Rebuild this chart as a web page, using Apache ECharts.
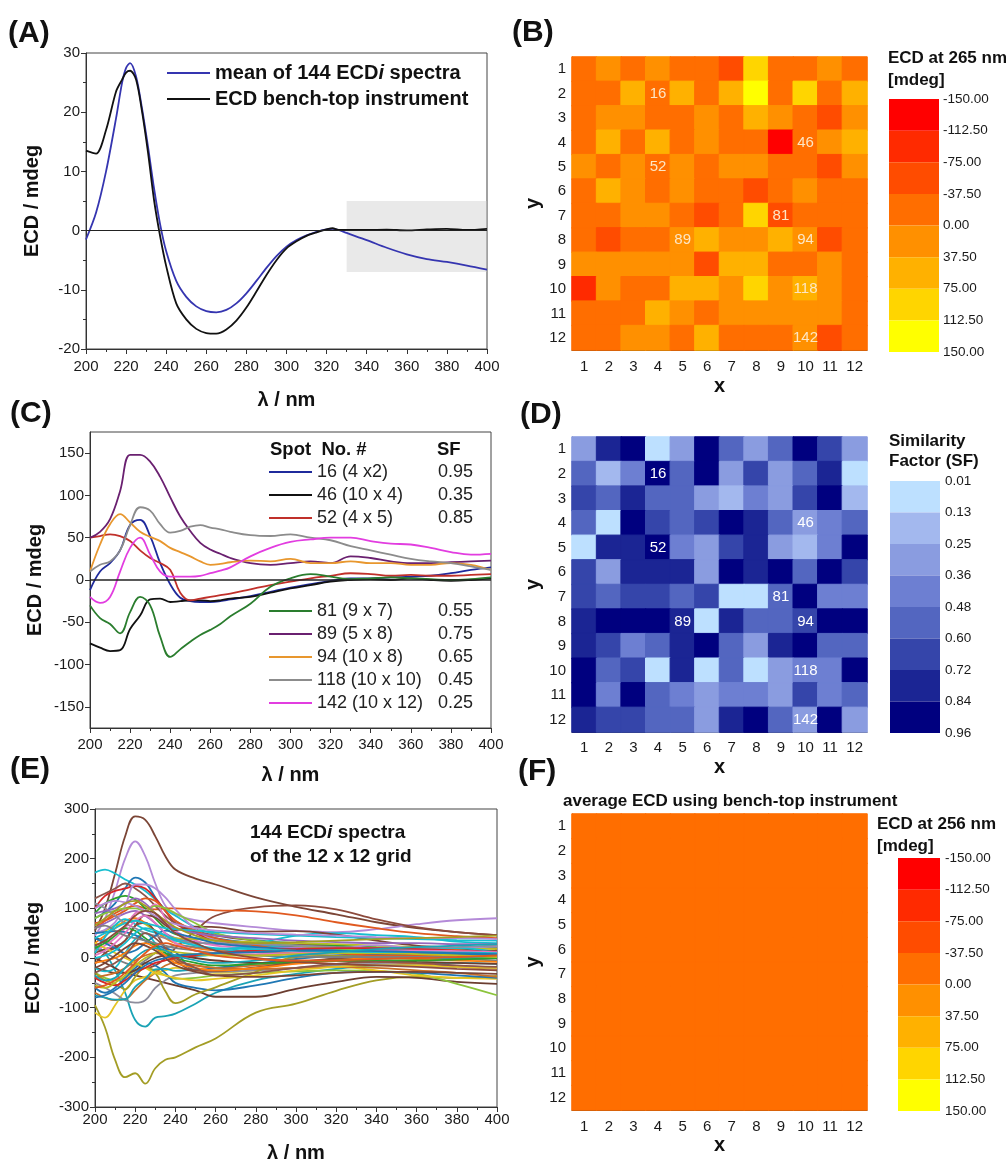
<!DOCTYPE html>
<html lang="en">
<head>
<meta charset="UTF-8">
<title>ECD imaging of a 12 x 12 grid</title>
<script src="https://cdn.jsdelivr.net/npm/echarts@6.0.0/dist/echarts.min.js"></script>
<style>
  body { margin: 0; background: #fff; }
  #chart { width: 1006px; height: 1164px; }
</style>
</head>
<body>
<div id="chart"></div>
<script>
const FONT = '"Liberation Sans", Arial, sans-serif';

// ---------- (A) mean ECDi vs bench-top ----------
const wlA = [200,205,210,215,218,220,222,225,228,231,234,237,240,245,250,255,260,265,270,275,280,285,290,295,300,305,310,315,320,323,326,330,340,350,360,370,380,390,400];
const meanA = [-1.5,3,10,19,25,27.5,28.3,26,20.5,14,7,1,-3.5,-8.5,-11.2,-12.8,-13.6,-13.8,-13.4,-12.3,-10.6,-8.5,-6.3,-4.3,-2.7,-1.6,-0.8,-0.2,0.2,0.3,0.1,-0.4,-1.6,-2.9,-4.0,-4.8,-5.3,-5.9,-6.6];
const benchA = [13.5,13,17,23.5,25.5,26.7,27,25.5,20,13,5,-1,-6,-12.3,-15,-16.6,-17.3,-17.4,-16.7,-15.2,-13,-10.3,-7.5,-5,-3,-1.8,-0.9,-0.3,0.2,0.4,0.1,0.1,0.1,0.15,0.05,0.2,0.3,0.1,0.3];
const shadeWl = [330, 400];
const shadeEcd = [-7, 5];

// ---------- (C) selected spots ----------
const wlC = [200,205,210,215,220,225,230,235,240,245,250,255,260,265,270,280,290,300,310,320,330,340,350,360,370,380,390,400];
const spotNames = ['16 (4 x2)', '46 (10 x 4)', '52 (4 x 5)', '81 (9 x 7)', '89 (5 x 8)', '94 (10 x 8)', '118 (10 x 10)', '142 (10 x 12)'];
const spotSF = ['0.95', '0.35', '0.85', '0.55', '0.75', '0.65', '0.45', '0.25'];
const spotColors = ['#1f2a9c', '#111111', '#c0302a', '#2a7d2e', '#6a2070', '#e8972e', '#8c8c8c', '#e23de0'];
const spot16 = [-12,10,20,35,65,71,52,20,-5,-21,-25,-26,-26,-25,-23,-19,-14,-9,-5,-1,2,2,3,4,5,8,12,15];
const spot46 = [-75,-80,-84,-83,-58,-42,-23,-22,-26,-25,-24,-24,-25,-24,-22,-20,-15,-10,-6,-2,0,1,0,2,0,-1,0,2];
const spot52 = [50,52,54,52,46,35,26,20,12,-15,-24,-22,-20,-18,-16,-11,-6,-2,2,5,8,7,5,6,5,5,6,7];
const spot81 = [-30,-45,-52,-63,-38,-20,-30,-67,-91,-82,-73,-65,-59,-52,-43,-28,-8,2,7,4,1,2,3,2,1,0,1,3];
const spot89 = [50,57,72,105,148,148,140,122,98,75,58,44,36,31,26,20,18,20,22,20,28,26,22,20,20,21,22,23];
const spot94 = [10,42,66,78,68,57,51,46,38,33,28,22,18,19,21,23,22,25,20,20,22,20,20,18,18,20,18,12];
const spot118 = [10,18,22,35,65,86,82,66,56,58,63,65,62,60,57,53,52,54,50,47,40,35,30,25,22,20,16,12];
const spot142 = [-20,-27,-20,10,38,50,30,10,4,4,4,5,8,11,15,28,38,45,48,50,50,46,43,42,38,33,30,31];
const spotCurves = [spot16, spot46, spot52, spot81, spot89, spot94, spot118, spot142];
const cTicks = [-150, -100, -50, 0, 50, 100, 150];

// ---------- (E) all ECDi spectra (hand-read, dense band) ----------
const wlE = [200,205,210,215,220,225,230,235,240,250,260,280,300,320,340,360,380,400];
const spectraE = [
  [55,100,170,245,285,278,245,205,178,160,148,122,103,88,72,60,52,46],
  [45,80,135,200,235,205,150,105,88,76,70,62,55,52,58,68,76,80],
  [172,178,170,158,148,135,118,98,85,62,48,36,30,25,20,16,14,10],
  [80,92,110,140,162,152,122,95,75,52,40,30,25,20,18,16,20,25],
  [-95,-140,-205,-240,-232,-253,-222,-205,-200,-180,-162,-110,-92,-66,-45,-38,-40,-36],
  [25,10,-25,-70,-125,-138,-120,-117,-112,-92,-70,-45,-32,-22,-15,-12,-10,-12],
  [40,35,25,5,-10,-20,-15,0,20,55,85,102,106,98,78,62,52,46],
  [60,75,90,100,105,100,98,100,100,98,96,94,86,72,60,50,44,40],
  [-20,-25,-30,-30,-35,-40,-45,-50,-55,-65,-78,-78,-62,-48,-38,-40,-48,-52],
  [-30,-40,-45,-40,-25,-20,-25,-35,-42,-40,-35,-30,-27,-25,-26,-32,-52,-75],
  [-70,-80,-85,-83,-65,-45,-30,-15,-10,-15,-20,-15,-10,-5,-8,-12,-18,-22],
  [-110,-120,-95,-65,-45,-38,-30,-25,-20,-25,-30,-25,-20,-18,-25,-35,-40,-42],
  [-50,-60,-72,-85,-90,-85,-60,-45,-35,-30,-28,-25,-20,-15,-12,-15,-18,-20],
  [-60,-70,-60,-40,-20,-10,-15,-30,-50,-60,-65,-55,-40,-30,-28,-30,-35,-40],
  [30,45,60,75,80,70,55,40,30,20,15,12,10,10,12,15,18,20],
  [90,110,120,125,118,100,80,60,48,40,35,30,28,25,22,20,20,22],
  [100,125,135,140,145,140,120,95,70,50,35,28,22,18,15,12,12,10],
  [60,70,80,90,95,85,70,50,40,32,28,25,20,18,15,15,14,12],
  [120,130,140,150,140,125,105,85,70,55,45,35,28,22,18,16,15,15],
  [15,25,40,60,90,95,108,80,55,35,25,20,18,16,15,15,14,14],
  [20,10,0,-10,-15,-5,10,20,25,22,18,12,8,5,2,0,-2,-5],
  [50,55,65,70,75,68,55,45,40,38,35,32,30,28,25,22,20,18],
  [-20,-27,-20,10,38,50,30,10,4,4,8,28,45,50,46,42,33,30],
  [10,18,22,35,65,86,82,66,56,63,62,53,54,47,35,25,20,12],
  [50,57,72,105,148,148,140,122,98,58,36,20,20,20,26,20,21,23],
  [10,42,66,78,68,57,51,46,38,28,18,23,25,20,20,18,20,12],
  [50,52,54,52,46,35,26,20,12,-24,-20,-11,-2,5,7,6,5,7],
  [-30,-45,-52,-63,-38,-20,-30,-67,-91,-73,-59,-28,2,4,2,2,0,3],
  [-75,-80,-84,-83,-58,-42,-23,-22,-26,-24,-25,-20,-10,-2,1,2,-1,2],
  [-12,10,20,35,65,71,52,20,-5,-25,-26,-19,-9,-1,2,4,8,15],
  [70,75,85,95,110,120,115,95,75,55,40,25,15,10,5,5,8,10],
  [0,-10,-20,-30,-25,-10,0,5,5,0,-5,-10,-8,-5,-5,-8,-10,-12],
  [80,90,95,100,100,95,105,100,90,70,50,35,25,18,15,12,10,10],
  [-40,-35,-30,-20,-5,5,10,5,-5,-15,-20,-22,-20,-18,-20,-25,-30,-38],
  [30,20,10,0,-10,-20,-30,-35,-40,-45,-42,-35,-25,-18,-15,-15,-18,-20],
  [110,100,85,70,60,50,45,40,35,30,30,28,25,22,20,20,22,25],
  [40,30,20,10,15,30,45,55,50,40,30,22,18,15,12,10,8,5],
  [-10,-5,0,10,25,30,20,5,-10,-20,-25,-20,-12,-5,0,-2,-5,-8],
  [20,30,45,60,55,40,25,10,0,-10,-15,-12,-8,-5,-5,-5,-3,0],
  [-40,-50,-55,-45,-30,-20,-10,-5,0,5,10,15,18,20,20,18,15,12],
  [90,95,100,110,120,110,90,70,60,50,45,40,35,32,30,30,28,28],
  [-30,-20,-10,5,30,50,40,20,0,-20,-35,-30,-20,-12,-8,-10,-15,-18],
  [5,15,30,50,75,85,70,50,30,15,10,8,10,12,15,15,14,12],
  [60,65,55,45,40,35,30,25,20,15,10,5,3,2,2,2,3,5],
  [-55,-60,-50,-35,-15,0,10,15,12,8,5,5,8,10,10,8,5,2],
  [40,50,60,70,75,70,65,60,58,55,52,48,45,42,40,38,36,35],
  [-20,-10,5,20,30,25,15,0,-15,-28,-35,-38,-35,-30,-28,-28,-30,-32],
  [100,110,115,112,105,95,85,75,68,60,55,50,47,45,42,40,40,38],
  [0,5,15,30,50,60,55,45,35,25,20,18,15,13,12,12,11,10],
  [-80,-75,-65,-50,-30,-15,-5,0,5,8,10,12,15,15,14,12,10,8],
  [65,80,95,110,115,105,90,75,62,45,35,30,32,35,38,40,42,45],
  [-35,-45,-40,-20,0,15,20,15,5,-5,-10,-5,5,12,18,22,25,28],
  [25,35,50,65,85,95,90,70,50,30,15,0,-8,-12,-15,-18,-22,-25],
  [-60,-55,-45,-30,-10,10,25,30,25,15,5,-2,-5,-5,-2,0,2,5]
];
const ePalette = ['#7b4536','#b48ad8','#17becf','#1f77b4','#a39d25','#1aa3b5','#8c4a3c','#e0591f','#6b3d30','#8cc43c','#c9702a','#e6c523','#8d8d9c',
                  '#1f77b4','#ff7f0e','#2ca02c','#d62728','#9467bd','#8c564b','#e377c2','#7f7f7f','#bcbd22','#17becf'];

// ---------- heat maps (rows y = 1..12, columns x = 1..12) ----------
const gridLabels = ['1','2','3','4','5','6','7','8','9','10','11','12'];
const markedSpots = [16, 46, 52, 81, 89, 94, 118, 142];

const ecdTicks = ['-150.00','-112.50','-75.00','-37.50','0.00','37.50','75.00','112.50','150.00'];
const ecdBounds = [-150, -112.5, -75, -37.5, 0, 37.5, 75, 112.5, 150];
const ecdColors = ['#ff0000','#ff2a00','#ff4c00','#ff6e00','#ff9000','#ffb100','#ffd500','#ffff00'];
const ecdMap = [
  [-20, 20,-20, 20,-20,-20,-55, 95,-20,-20, 20,-20],
  [-20,-20, 55,-20, 55,-20, 55,130,-20, 95,-20, 55],
  [-20, 20, 20,-20,-20, 20,-20, 55, 20,-20,-55, 20],
  [-20, 55,-20, 55,-20, 20,-20,-20,-120,-20, 20, 55],
  [ 20,-20, 20,-20, 20,-20, 20, 20,-20,-20,-55, 20],
  [-20, 55, 20,-20, 20,-20,-20,-55,-20, 20,-20,-20],
  [-20,-20, 20, 20,-20,-55,-20, 95,-55,-20,-20,-20],
  [-20,-55,-20,-20, 20, 55, 20, 20, 55, 20,-55,-20],
  [ 20, 20, 20, 20, 20,-55, 55, 55,-20,-20, 20,-20],
  [-95, 20,-20,-20, 55, 55, 20, 95, 20, 55, 20,-20],
  [-20,-20,-20, 55, 20,-20, 20, 20, 20, 20, 20,-20],
  [-20,-20, 20, 20,-20, 55,-20,-20,-20, 20,-55,-20]
];

const sfTicks = ['0.01','0.13','0.25','0.36','0.48','0.60','0.72','0.84','0.96'];
const sfBounds = [0.01, 0.13, 0.25, 0.36, 0.48, 0.60, 0.72, 0.84, 0.96];
const sfColors = ['#bde0ff','#a3b8ee','#8a9ce0','#6d7fd2','#5366c0','#3545aa','#1b2594','#00007f'];
const sfMap = [
  [.30,.78,.90,.07,.30,.90,.54,.30,.54,.90,.66,.30],
  [.54,.19,.42,.95,.54,.90,.30,.66,.30,.54,.78,.07],
  [.66,.54,.78,.54,.54,.30,.19,.42,.30,.66,.90,.19],
  [.54,.07,.90,.66,.54,.66,.90,.78,.54,.35,.42,.54],
  [.07,.78,.78,.85,.42,.30,.66,.78,.30,.19,.42,.90],
  [.66,.30,.78,.78,.78,.30,.90,.78,.90,.54,.90,.66],
  [.66,.54,.66,.66,.54,.66,.07,.07,.55,.90,.42,.42],
  [.78,.90,.90,.90,.75,.07,.78,.54,.54,.65,.90,.90],
  [.78,.66,.42,.54,.78,.90,.54,.30,.78,.90,.54,.54],
  [.90,.54,.66,.07,.78,.07,.54,.07,.30,.45,.42,.90],
  [.90,.42,.90,.54,.42,.30,.42,.42,.30,.66,.42,.54],
  [.78,.66,.66,.54,.54,.30,.78,.90,.54,.25,.90,.30]
];

const benchAvg256 = -16.7;   // bench-top value, same on every spot

// ---------- helpers ----------
const pairs = (xs, ys) => xs.map((x, i) => [x, ys[i]]);
function binColor(v, bounds, colors) {
  for (let i = 0; i < colors.length; i++) {
    if (v < bounds[i + 1] || i === colors.length - 1) return colors[i];
  }
}
// each cell also gets a same-coloured hairline border so neighbouring cells show no seams
function cells(map, bounds, colors) {
  const out = [];
  map.forEach((row, yi) => row.forEach((v, xi) => out.push({
    value: [xi, yi, v],
    itemStyle: { borderColor: binColor(v, bounds, colors), borderWidth: 1 }
  })));
  return out;
}
function pieces(bounds, colors) {
  return colors.map((c, i) => i === colors.length - 1
    ? { gte: bounds[i], lte: bounds[i + 1], color: c }
    : { gte: bounds[i], lt: bounds[i + 1], color: c });
}
const fMap = gridLabels.map(() => gridLabels.map(() => benchAvg256));

const axisTxt = { fontFamily: FONT, fontSize: 15, color: '#1a1a1a' };
const nameTxt = { fontFamily: FONT, fontSize: 20, fontWeight: 'bold', color: '#111' };
const dark = { color: '#333' };

function specX(g, gap, margin) {
  return {
    gridIndex: g, type: 'value', min: 200, max: 400, interval: 20,
    name: 'λ / nm', nameLocation: 'middle', nameGap: gap, nameTextStyle: nameTxt,
    axisLine: { onZero: false, lineStyle: dark },
    axisTick: { length: 5, lineStyle: dark },
    minorTick: { show: true, splitNumber: 2, length: 3, lineStyle: dark },
    axisLabel: Object.assign({ margin: margin }, axisTxt),
    splitLine: { show: false }
  };
}
function specY(g, gap, extra) {
  return Object.assign({
    gridIndex: g, type: 'value',
    name: 'ECD / mdeg', nameLocation: 'middle', nameRotate: 90, nameGap: gap, nameTextStyle: nameTxt,
    axisLine: { onZero: false, lineStyle: dark },
    axisTick: { length: 5, lineStyle: dark },
    minorTick: { show: true, splitNumber: 2, length: 3, lineStyle: dark },
    axisLabel: Object.assign({ margin: 6 }, axisTxt),
    splitLine: { show: false }
  }, extra);
}
function cellX(g, margin, gap) {
  return {
    gridIndex: g, type: 'category', data: gridLabels,
    name: 'x', nameLocation: 'middle', nameGap: gap, nameTextStyle: nameTxt,
    axisLine: { lineStyle: dark },
    axisTick: { alignWithLabel: true, length: 5, lineStyle: dark },
    axisLabel: Object.assign({ margin: margin, interval: 0 }, axisTxt),
    splitLine: { show: false }
  };
}
function cellY(g, gap) {
  return {
    gridIndex: g, type: 'category', data: gridLabels, inverse: true,
    name: 'y', nameLocation: 'middle', nameRotate: 90, nameGap: gap, nameTextStyle: nameTxt,
    axisLine: { lineStyle: dark },
    axisTick: { alignWithLabel: true, length: 5, lineStyle: dark },
    axisLabel: Object.assign({ margin: 6, interval: 0 }, axisTxt),
    splitLine: { show: false }
  };
}
const barX = g => ({ gridIndex: g, type: 'value', min: 0, max: 1, show: false });
const barY = (g, ticks, margin) => ({
  gridIndex: g, type: 'value', min: 0, max: 8, interval: 1, inverse: true, position: 'right',
  axisLine: { show: false }, axisTick: { show: false }, splitLine: { show: false },
  axisLabel: { fontFamily: FONT, fontSize: 13.5, color: '#1a1a1a', margin: margin, formatter: v => ticks[v] }
});
function colorBar(g, colors) {
  return {
    type: 'custom', xAxisIndex: g, yAxisIndex: g, silent: true,
    data: colors.map((c, i) => [0, i]),
    renderItem: (params, api) => {
      const i = api.value(1);
      const a = api.coord([0, i]), b = api.coord([1, i + 1]);
      return { type: 'rect', shape: { x: a[0], y: a[1], width: b[0] - a[0], height: b[1] - a[1] },
               style: { fill: colors[i] } };
    }
  };
}
function heat(g, map, bounds, colors, labelColor) {
  return {
    type: 'heatmap', xAxisIndex: g, yAxisIndex: g, data: cells(map, bounds, colors),
    emphasis: { disabled: true },
    label: {
      show: !!labelColor, color: labelColor, fontFamily: FONT, fontSize: 15,
      formatter: p => {
        const n = p.value[1] * 12 + p.value[0] + 1;
        return markedSpots.includes(n) ? String(n) : '';
      }
    }
  };
}
function txt(text, x, y, size, opts) {
  return {
    type: 'text', x: x, y: y, z: 100, silent: true,
    style: Object.assign({
      text: text, fontFamily: FONT, fontSize: size, fontWeight: 'bold', fill: '#111',
      align: 'left', verticalAlign: 'middle', textAlign: 'left', textVerticalAlign: 'middle'
    }, opts || {})
  };
}

// ---------- layout ----------
const grids = [
  { left: 86,  top: 53,  width: 401, height: 296, show: true, borderColor: '#444', borderWidth: 1 },  // A
  { left: 572, top: 57,  width: 295, height: 293 },                                                   // B
  { left: 889, top: 99,  width: 50,  height: 253 },                                                   // B bar
  { left: 90,  top: 432, width: 401, height: 296, show: true, borderColor: '#444', borderWidth: 1 },  // C
  { left: 572, top: 437, width: 295, height: 295 },                                                   // D
  { left: 890, top: 481, width: 50,  height: 252 },                                                   // D bar
  { left: 95,  top: 809, width: 402, height: 298, show: true, borderColor: '#444', borderWidth: 1 },  // E
  { left: 572, top: 814, width: 295, height: 296 },                                                   // F
  { left: 898, top: 858, width: 42,  height: 253 }                                                    // F bar
].map(g => Object.assign({ containLabel: false, outerBoundsMode: 'none' }, g));

const xAxes = [
  specX(0, 41, 10), cellX(1, 9, 26), barX(2),
  specX(3, 37, 9),  cellX(4, 8, 25), barX(5),
  specX(6, 36, 5),  cellX(7, 9, 25), barX(8)
];
const yAxes = [
  specY(0, 44, { min: -20, max: 30, interval: 10 }), cellY(1, 29), barY(2, ecdTicks, 4),
  specY(3, 45, { min: -175, max: 175, axisLabel: Object.assign({ margin: 6, customValues: cTicks }, axisTxt),
                 axisTick: { length: 5, lineStyle: dark, customValues: cTicks }, minorTick: { show: false } }),
  cellY(4, 29), barY(5, sfTicks, 5),
  specY(6, 52, { min: -300, max: 300, interval: 100 }), cellY(7, 29), barY(8, ecdTicks, 5)
];

// ---------- series ----------
const series = [];
const meanName = 'mean of 144 ECDi spectra';
const benchName = 'ECD bench-top instrument';
series.push({
  name: meanName, type: 'line', xAxisIndex: 0, yAxisIndex: 0, data: pairs(wlA, meanA),
  symbol: 'none', smooth: 0.3, color: '#3535b0', lineStyle: { width: 1.8, color: '#3535b0' }, itemStyle: { color: '#3535b0' }
});
series.push({
  name: benchName, type: 'line', xAxisIndex: 0, yAxisIndex: 0, data: pairs(wlA, benchA),
  symbol: 'none', smooth: 0.3, color: '#111', lineStyle: { width: 1.8, color: '#111' }, itemStyle: { color: '#111' },
  markLine: { silent: true, symbol: 'none', label: { show: false }, lineStyle: { color: '#222', width: 1, type: 'solid' }, data: [{ yAxis: 0 }] }
});
series.push({
  name: 'shade', type: 'line', xAxisIndex: 0, yAxisIndex: 0, data: [], z: 10,
  markArea: { silent: true, itemStyle: { color: 'rgba(200,200,200,0.4)' },
              data: [[{ xAxis: shadeWl[0], yAxis: shadeEcd[1] }, { xAxis: shadeWl[1], yAxis: shadeEcd[0] }]] }
});

const idxB = series.length;
series.push(heat(1, ecdMap, ecdBounds, ecdColors, '#fde6c4'));
series.push(colorBar(2, ecdColors));

spotCurves.forEach((curve, i) => {
  const s = {
    name: spotNames[i], type: 'line', xAxisIndex: 3, yAxisIndex: 3, data: pairs(wlC, curve),
    symbol: 'none', smooth: 0.4, color: spotColors[i],
    lineStyle: { width: 1.8, color: spotColors[i] }, itemStyle: { color: spotColors[i] }
  };
  if (i === 0) {
    s.markLine = { silent: true, symbol: 'none', label: { show: false }, lineStyle: { color: '#222', width: 1.5, type: 'solid' }, data: [{ yAxis: 0 }] };
  }
  series.push(s);
});

const idxD = series.length;
series.push(heat(4, sfMap, sfBounds, sfColors, '#ffffff'));
series.push(colorBar(5, sfColors));

spectraE.forEach((curve, i) => {
  const c = ePalette[i % ePalette.length];
  series.push({
    name: 'E' + (i + 1), type: 'line', xAxisIndex: 6, yAxisIndex: 6, data: pairs(wlE, curve),
    symbol: 'none', smooth: 0.4, lineStyle: { width: 1.8, color: c }, itemStyle: { color: c }
  });
});

const idxF = series.length;
series.push(heat(7, fMap, ecdBounds, ecdColors, null));
series.push(colorBar(8, ecdColors));

// ---------- legends ----------
const richA = {
  b: { fontFamily: FONT, fontSize: 20, fontWeight: 'bold', color: '#111' },
  i: { fontFamily: FONT, fontSize: 20, fontWeight: 'bold', fontStyle: 'italic', color: '#111' }
};
const richC = {
  n: { fontFamily: FONT, fontSize: 18, color: '#222', width: 121 },
  s: { fontFamily: FONT, fontSize: 18, color: '#222' }
};
const legendC = (names, top) => ({
  data: names, left: 269, top: top, orient: 'vertical', padding: 0, selectedMode: false,
  icon: 'rect', itemWidth: 43, itemHeight: 2, itemGap: 3,
  textStyle: { fontFamily: FONT, fontSize: 18, lineHeight: 20, rich: richC },
  formatter: name => '{n|' + name + '}{s|' + spotSF[spotNames.indexOf(name)] + '}'
});

const option = {
  animation: false,
  backgroundColor: '#fff',
  textStyle: { fontFamily: FONT },
  grid: grids,
  xAxis: xAxes,
  yAxis: yAxes,
  visualMap: [
    { type: 'piecewise', show: false, seriesIndex: idxB, dimension: 2, pieces: pieces(ecdBounds, ecdColors) },
    { type: 'piecewise', show: false, seriesIndex: idxD, dimension: 2, pieces: pieces(sfBounds, sfColors) },
    { type: 'piecewise', show: false, seriesIndex: idxF, dimension: 2, pieces: pieces(ecdBounds, ecdColors) }
  ],
  legend: [
    {
      data: [meanName, benchName], left: 167, top: 62, orient: 'vertical', padding: 0, selectedMode: false,
      icon: 'rect', itemWidth: 43, itemHeight: 2, itemGap: 4,
      textStyle: { fontFamily: FONT, fontSize: 20, lineHeight: 22, rich: richA },
      formatter: name => name === meanName ? '{b|mean of 144 ECD}{i|i}{b| spectra}' : '{b|' + name + '}'
    },
    legendC(spotNames.slice(0, 3), 462),
    legendC(spotNames.slice(3), 601)
  ],
  graphic: { elements: [
    txt('(A)', 8, 34, 30),
    txt('(B)', 512, 33, 30),
    txt('(C)', 10, 414, 30),
    txt('(D)', 520, 415, 30),
    txt('(E)', 10, 770, 30),
    txt('(F)', 518, 772, 30),
    txt('ECD at 265 nm', 888, 58, 17),
    txt('[mdeg]', 888, 80, 17),
    txt('Similarity', 889, 441, 17),
    txt('Factor (SF)', 889, 461, 17),
    txt('average ECD using bench-top instrument', 563, 801, 17),
    txt('ECD at 256 nm', 877, 824, 17),
    txt('[mdeg]', 877, 846, 17),
    txt('Spot  No. #', 270, 450, 18.5),
    txt('SF', 437, 450, 18.5),
    txt('{b|144 ECD}{i|i}{b| spectra}', 250, 833, 19, { rich: {
      b: { fontFamily: FONT, fontSize: 19, fontWeight: 'bold', fill: '#111' },
      i: { fontFamily: FONT, fontSize: 19, fontWeight: 'bold', fontStyle: 'italic', fill: '#111' } } }),
    txt('of the 12 x 12 grid', 250, 857, 19)
  ] },
  series: series
};

const chart = echarts.init(document.getElementById('chart'));
chart.setOption(option);
</script>
</body>
</html>
